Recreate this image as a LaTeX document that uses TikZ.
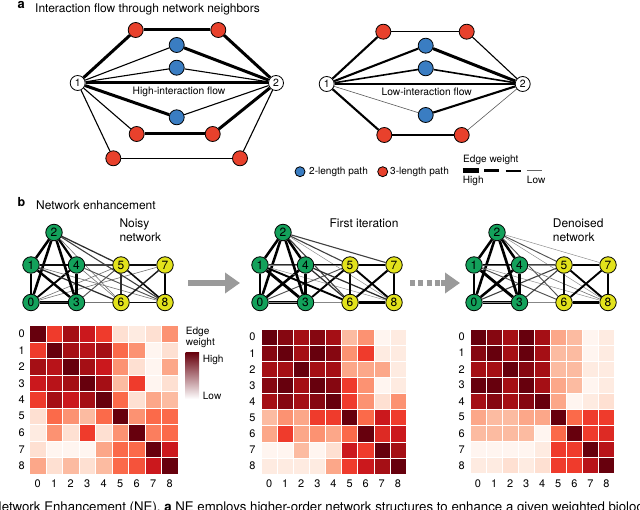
\documentclass[tikz,border=0pt]{standalone}
\usepackage{fontspec}
\setmainfont{TeX Gyre Heros}
\usetikzlibrary{arrows.meta,backgrounds}
\definecolor{nred}{HTML}{E8412C}
\definecolor{nblue}{HTML}{3A7DC2}
\definecolor{ngreen}{HTML}{13A15B}
\definecolor{nyellow}{HTML}{E2E21C}
\definecolor{agray}{HTML}{9A9A9A}
\definecolor{r0}{HTML}{FFF5F0}
\definecolor{r1}{HTML}{FEE0D2}
\definecolor{r2}{HTML}{FCBBA1}
\definecolor{r3}{HTML}{FC9272}
\definecolor{r4}{HTML}{FB6A4A}
\definecolor{r5}{HTML}{EF3B2C}
\definecolor{r6}{HTML}{CB181D}
\definecolor{r7}{HTML}{A50F15}
\definecolor{r8}{HTML}{67000D}
\newcommand\setfs[1]{\fontsize{#1}{#1}\selectfont}
\def\Hone{{8,5,7,6,5,1,0.5,1,3},{5,8,7,6.5,7,4,3,0,1},{7,6.5,8,7,6,3,1,0,2.5},{6,6.5,7,8,7,2,5,0,1},{5,7,6,7,8,4,1,2.5,2},{1,4,3,2,4,8,3,4,4},{0.5,3,1,5,1,3,8,3.5,4},{1,0,0,0,2.5,4,4,8,6},{2.5,1,2,1,2,4,4.5,6,8}}
\def\Htwo{{8,7.5,7,7.5,7,2,3,0,0.5},{7.5,8,7,8,7.5,3,5,0.5,0.5},{7,7,8,7,7,2.5,2.5,2.5,0.5},{7.5,8,7,8,7.5,5,3,0,0.5},{7,7.5,7,7.5,8,5,3,1,3},{2,3,2.5,5,5,8,4,6,5},{2.5,5,2.5,3,2.5,4,8,5.5,6},{0,0,2,0,1,6,5,8,7},{0.5,0.5,0.5,0.5,2.5,5,6,7,8}}
\def\Hthree{{8,7.5,7,8,7,2.5,2,0,0.5},{7.5,8,7,8,7,2,2,0,0.5},{7,7,8,7.5,7,2,2,0.5,0.5},{8,8,7,8,7,2.5,2,0,0.5},{7,7.5,7,7.5,8,2.5,0,0.5,1},{2.5,2,2,2.5,2.5,8,4,5,5},{2,2,2,2,0,4,8,5,5.5},{0,0,0,0,0.5,5,5,8,6.5},{0.5,0.5,1,0.5,1,5,5,6.5,8}}
% heatmap: #1 matrix, #2 x0, #3 y0, #4 cell size
\newcommand\heatmap[4]{%
  \foreach \rowvals [count=\r from 0] in #1 {
    \foreach \v [count=\c from 0] in \rowvals {
      \pgfmathtruncatemacro\ii{floor(\v)}
      \pgfmathtruncatemacro\jj{min(\ii+1,8)}
      \pgfmathtruncatemacro\pp{round(100*(1-(\v-\ii)))}
      \colorlet{cellc}{r\ii!\pp!r\jj}
      \fill[cellc, draw=white, line width=0.4bp] ({#2+\c*#4},{#3+\r*#4}) rectangle ++(#4,#4);
    }
  }
}
% network edges: #1 prefix, #2 matrix
\newcommand\netedges[2]{%
  \foreach \rowvals [count=\r from 0] in #2 {
    \foreach \v [count=\c from 0] in \rowvals {
      \ifnum\c>\r
        \ifdim\v pt>0pt
          \pgfmathsetmacro\ww{0.3+0.32*\v}
          \pgfmathtruncatemacro\gg{min(100,40+14*\v)}
          \draw[line width=\ww bp, draw=black!\gg] (#1\r) -- (#1\c);
        \fi
      \fi
    }
  }
}
\tikzset{
  anode/.style={circle, draw, line width=0.8bp, minimum size=15bp, inner sep=0pt},
  wnode/.style={anode, fill=white, font=\setfs{10.5}},
  rnode/.style={anode, fill=nred},
  bnode/.style={anode, fill=nblue},
  gnode/.style={circle, draw, line width=0.8bp, minimum size=16.5bp, inner sep=0pt, fill=ngreen, font=\setfs{12}},
  ynode/.style={gnode, fill=nyellow},
  lbl/.style={inner sep=0pt, font=\setfs{12}},
  small/.style={inner sep=0pt, font=\setfs{10.3}},
  leg/.style={inner sep=0pt, font=\setfs{10.1}},
  ax/.style={inner sep=0pt, font=\setfs{11}},
  e3/.style={line width=3bp},
  e2/.style={line width=2.1bp},
  e2m/.style={line width=1.6bp},
  e1/.style={line width=1.1bp},
  e0/.style={line width=0.6bp, draw=black!65},
  garrow/.style={draw=agray, line width=6bp},
}
\begin{document}
\begin{tikzpicture}[x=1bp,y=-1bp]
\useasboundingbox (0,0) rectangle (640,510);
\clip (0,0) rectangle (640,510);

% ---------- panel a ----------
\node[anchor=base west, inner sep=0pt, font=\bfseries\setfs{13}] (pa) at (17.5,9) {a};
\node[anchor=base west, lbl] (ta) at (35,12.7) {Interaction flow through network neighbors};

\node[wnode] (L1) at (77.7,83) {1};
\node[wnode] (L2) at (276,83) {2};
\node[rnode] (Lt1) at (135.7,30) {};
\node[rnode] (Lt2) at (218.3,30) {};
\node[bnode] (Lb1) at (176.7,45) {};
\node[bnode] (Lb2) at (176.7,67.7) {};
\node[bnode] (Lb3) at (176.7,117.3) {};
\node[rnode] (Lm1) at (136.7,134) {};
\node[rnode] (Lm2) at (212.7,134) {};
\node[rnode] (Ld1) at (113.3,158.3) {};
\node[rnode] (Ld2) at (240,158.3) {};
\node[small] (Ltxt) at (179,91.5) {High-interaction flow};

\node[wnode] (R1) at (326.7,84) {1};
\node[wnode] (R2) at (522.7,84) {2};
\node[rnode] (Rt1) at (383.3,31.7) {};
\node[rnode] (Rt2) at (466.7,31.7) {};
\node[bnode] (Rb1) at (425.7,45.7) {};
\node[bnode] (Rb2) at (425.7,68.3) {};
\node[bnode] (Rb3) at (425.7,115) {};
\node[rnode] (Rd1) at (384.3,135) {};
\node[rnode] (Rd2) at (461.7,135) {};
\node[small] (Rtxt) at (426.7,91.5) {Low-interaction flow};

\begin{scope}[on background layer]
\draw[e3] (L1)--(Lt1); \draw[e3] (Lt1)--(Lt2); \draw[e3] (Lt2)--(L2);
\draw[e1] (L1)--(Lb1); \draw[e3] (Lb1)--(L2);
\draw[e1] (L1)--(Lb2); \draw[e1] (Lb2)--(L2);
\draw[e3] (L1)--(L2);
\draw[e3] (L1)--(Lb3); \draw[e1] (Lb3)--(L2);
\draw[e1] (L1)--(Lm1); \draw[e3] (Lm1)--(Lm2); \draw[e3] (Lm2)--(L2);
\draw[e1] (L1)--(Ld1); \draw[e1] (Ld1)--(Ld2); \draw[e1] (Ld2)--(L2);

\draw[e2] (R1)--(Rt1); \draw[e1] (Rt1)--(Rt2); \draw[e1] (Rt2)--(R2);
\draw[e2] (R1)--(Rb1); \draw[e3] (Rb1)--(R2);
\draw[e2m] (R1)--(Rb2); \draw[e2m] (Rb2)--(R2);
\draw[e2] (R1)--(R2);
\draw[e0] (R1)--(Rb3); \draw[e2] (Rb3)--(R2);
\draw[e2] (R1)--(Rd1); \draw[e2] (Rd1)--(Rd2); \draw[e0] (Rd2)--(R2);
\end{scope}

% legend
\node[bnode, minimum size=10bp] (lgb) at (300,171.7) {};
\node[leg, anchor=west] (lgbt) at (309,172) {2-length path};
\node[rnode, minimum size=10bp] (lgr) at (382.7,171.7) {};
\node[leg, anchor=west] (lgrt) at (390,172) {3-length path};
\node[leg, anchor=base west] (ew) at (463,162.5) {Edge weight};
\node[leg, anchor=base west] (ewh) at (462.7,184) {High};
\node[leg, anchor=base west] (ewl) at (526.7,184) {Low};
\draw[line width=5bp] (462.7,170.7) -- (479,170.7);
\draw[line width=3.3bp] (484.3,170.7) -- (499.3,170.7);
\draw[line width=1.8bp] (505.7,170.7) -- (520.7,170.7);
\draw[line width=0.9bp, draw=black!60] (526.7,170.7) -- (541.5,170.7);

% ---------- panel b ----------
\node[anchor=base west, inner sep=0pt, font=\bfseries\setfs{12.5}] (pb) at (17.5,206.7) {b};
\node[anchor=base west, lbl] (tb) at (36,209.5) {Network enhancement};
\node[anchor=base west, lbl] (n1a) at (119.3,227.5) {Noisy};
\node[anchor=base west, lbl] (n1b) at (119.3,241.7) {network};
\node[anchor=base, lbl] (n2a) at (364,227.3) {First iteration};
\node[anchor=base west, lbl] (n3a) at (552.7,227.5) {Denoised};
\node[anchor=base west, lbl] (n3b) at (552.7,241.7) {network};

\foreach \k/\X in {A/31, B/260, C/474} {
  \node[gnode] (\k0) at (\X,302.5) {0};
  \node[gnode] (\k1) at (\X,265) {1};
  \node[gnode] (\k2) at (\X+23,232.5) {2};
  \node[gnode] (\k3) at (\X+45.5,302.5) {3};
  \node[gnode] (\k4) at (\X+45.5,265) {4};
  \node[ynode] (\k5) at (\X+90,265) {5};
  \node[ynode] (\k6) at (\X+90,302.5) {6};
  \node[ynode] (\k7) at (\X+134,265) {7};
  \node[ynode] (\k8) at (\X+134,302.5) {8};
}
\begin{scope}[on background layer]
\netedges{A}{\Hone}
\netedges{B}{\Htwo}
\netedges{C}{\Hthree}
\end{scope}

% gray arrows
\coordinate (ga1) at (188,283);
\coordinate (ga2) at (240,283);
\draw[garrow, -{Triangle[length=15bp,width=20bp]}] (ga1) -- (ga2);
\coordinate (gb1) at (410,283);
\coordinate (gb2) at (441,283);
\coordinate (gb3) at (460,283);
\draw[garrow, dash pattern=on 5bp off 3.3bp] (gb1) -- (gb2);
\draw[garrow, -{Triangle[length=15bp,width=20bp]}] (gb2) -- (gb3);

% ---------- heatmaps ----------
\heatmap{\Hone}{29.5}{325.5}{16.5}
\heatmap{\Htwo}{261}{329}{16.1}
\heatmap{\Hthree}{470}{329}{16.05}
\foreach \k in {0,...,8} {
  \node[ax] (h1r\k) at (21.7,{325.5+(\k+0.5)*16.5}) {\k};
  \node[ax] (h1c\k) at ({29.5+(\k+0.5)*16.5},483.3) {\k};
  \node[ax] (h2r\k) at (252.3,{329+(\k+0.5)*16.1}) {\k};
  \node[ax] (h2c\k) at ({261+(\k+0.5)*16.1},483.3) {\k};
  \node[ax] (h3r\k) at (461.7,{329+(\k+0.5)*16.05}) {\k};
  \node[ax] (h3c\k) at ({470+(\k+0.5)*16.05},483.3) {\k};
}
% color legend
\node[anchor=base west, leg] (cl1) at (185.7,334.5) {Edge};
\node[anchor=base west, leg] (cl2) at (185.7,345.8) {weight};
\shade[top color=r8, middle color=r5, bottom color=white] (185.7,352.7) rectangle (199,399);
\node[anchor=base west, leg] (clh) at (202.7,362) {High};
\node[anchor=base west, leg] (cll) at (202.7,399.3) {Low};

% cut caption line
\node[anchor=base west, inner sep=0pt, font=\setfs{13.3}] (cap) at (-8,511) {Network Enhancement (NE). \textbf{a} NE employs higher-order network structures to enhance a given weighted biological network};
\end{tikzpicture}
\end{document}
